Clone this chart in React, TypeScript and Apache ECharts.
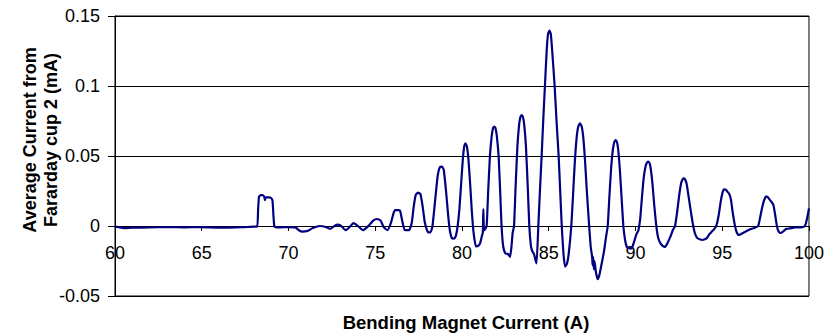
import React, { useEffect, useRef } from "react";
import * as echarts from "echarts";

// Bending magnet current (A)
const xValues: number[] = [
  60, 60.5, 61, 62, 63, 64, 65, 66, 67, 67.5, 68, 68.2, 68.25, 68.3, 68.4, 68.5, 68.6, 68.64, 68.68, 68.85,
  69.0, 69.08, 69.13, 69.18, 69.25, 69.5, 70.0, 70.4, 70.6, 70.8, 71.1, 71.4, 71.8, 72.1, 72.4, 72.8, 73.0, 73.3,
  73.5, 73.75, 74.0, 74.3, 74.6, 74.9, 75.1, 75.3, 75.5, 75.7, 75.9, 76.05, 76.15, 76.3, 76.43, 76.55, 76.7,
  76.95, 77.1, 77.22, 77.33, 77.45, 77.6, 77.72, 77.85, 77.98, 78.06, 78.19, 78.3, 78.45, 78.6, 78.72, 78.85,
  78.95, 79.08, 79.2, 79.3, 79.42, 79.55, 79.65, 79.75, 79.85, 79.95, 80.05, 80.13, 80.2, 80.28, 80.37, 80.47,
  80.57, 80.67, 80.8, 80.95, 81.05, 81.15, 81.2, 81.23, 81.26, 81.3, 81.42, 81.51, 81.61, 81.71, 81.79, 81.86,
  81.93, 82.01, 82.11, 82.2, 82.28, 82.38, 82.5, 82.65, 82.77, 82.85, 82.92, 83.0, 83.09, 83.19, 83.29, 83.37,
  83.44, 83.51, 83.59, 83.69, 83.79, 83.88, 83.97, 84.05, 84.15, 84.25, 84.3, 84.4, 84.5, 84.59, 84.7, 84.78,
  84.88, 84.96, 85.04, 85.12, 85.2, 85.34, 85.45, 85.57, 85.66, 85.75, 85.85, 85.94, 86.05, 86.15, 86.3, 86.4,
  86.5, 86.6, 86.7, 86.8, 86.9, 87.0, 87.1, 87.2, 87.33, 87.42, 87.5, 87.53, 87.56, 87.6, 87.64, 87.72, 87.82,
  87.92, 88.05, 88.2, 88.3, 88.4, 88.5, 88.6, 88.7, 88.78, 88.85, 88.93, 89.0, 89.1, 89.2, 89.3, 89.4, 89.5,
  89.65, 89.78, 89.9, 90.05, 90.17, 90.27, 90.37, 90.47, 90.57, 90.65, 90.73, 90.81, 90.89, 90.98, 91.08, 91.2,
  91.3, 91.42, 91.55, 91.7, 91.85, 92.0, 92.15, 92.28, 92.4, 92.52, 92.64, 92.75, 92.85, 92.95, 93.05, 93.17,
  93.3, 93.42, 93.55, 93.7, 93.85, 94.0, 94.1, 94.25, 94.4, 94.55, 94.68, 94.8, 94.92, 95.02, 95.1, 95.2, 95.3,
  95.4, 95.5, 95.6, 95.72, 95.82, 95.93, 96.05, 96.2, 96.35, 96.5, 96.69, 96.85, 97.07, 97.15, 97.28, 97.4,
  97.52, 97.6, 97.72, 97.85, 97.95, 98.05, 98.15, 98.25, 98.35, 98.5, 98.7, 98.9, 99.2, 99.5, 99.7, 99.8, 99.9,
  100,
];

// Average current from Faraday cup 2 (mA)
const currentValues: number[] = [
  -0.0005, -0.0015, -0.0012, -0.001, -0.0008, -0.001, -0.0008, -0.0012, -0.001, -0.0008, -0.0005, -0.0005, 0.012,
  0.021, 0.022, 0.022, 0.021, 0.0185, 0.0205, 0.0205, 0.02, 0.018, 0.008, 0.0, -0.0008, -0.001, -0.0008, -0.001,
  -0.003, -0.004, -0.0035, -0.0015, 0.0, -0.0005, -0.002, 0.001, 0.0005, -0.003, -0.001, 0.002, 0.0, -0.003, 0.0,
  0.004, 0.005, 0.004, -0.001, -0.003, 0.002, 0.009, 0.0114, 0.0114, 0.011, 0.004, -0.003, -0.003, 0.002, 0.014,
  0.022, 0.0238, 0.023, 0.015, 0.003, -0.003, -0.0045, -0.0045, 0.0, 0.018, 0.036, 0.042, 0.0424, 0.04, 0.025,
  0.008, -0.003, -0.0088, -0.009, -0.007, 0.0, 0.012, 0.03, 0.048, 0.057, 0.059, 0.057, 0.048, 0.03, 0.01, -0.005,
  -0.0145, -0.014, -0.012, -0.007, -0.005, 0.012, -0.002, -0.003, 0.0, 0.025, 0.05, 0.064, 0.07, 0.071, 0.07,
  0.064, 0.05, 0.025, 0.0, -0.015, -0.0195, -0.02, -0.022, -0.015, -0.005, 0.0, 0.028, 0.056, 0.072, 0.078,
  0.0793, 0.078, 0.072, 0.056, 0.028, 0.0, -0.014, -0.018, -0.02, -0.025, -0.0267, 0.0, 0.027, 0.05, 0.08, 0.1,
  0.125, 0.137, 0.1395, 0.137, 0.125, 0.1, 0.075, 0.05, 0.025, 0.0, -0.02, -0.029, -0.027, -0.02, 0.0, 0.022,
  0.045, 0.062, 0.071, 0.0733, 0.071, 0.062, 0.045, 0.024, 0.0, -0.015, -0.022, -0.028, -0.022, -0.031, -0.025,
  -0.033, -0.038, -0.035, -0.027, -0.017, -0.008, 0.0, 0.022, 0.042, 0.055, 0.06, 0.0614, 0.06, 0.055, 0.04, 0.02,
  0.0, -0.01, -0.015, -0.016, -0.016, -0.012, -0.006, -0.003, 0.005, 0.02, 0.034, 0.042, 0.045, 0.046, 0.045,
  0.04, 0.03, 0.015, 0.0, -0.008, -0.012, -0.014, -0.015, -0.012, -0.008, -0.003, 0.0, 0.01, 0.022, 0.031, 0.034,
  0.0335, 0.03, 0.022, 0.012, 0.002, -0.005, -0.0085, -0.0095, -0.01, -0.0095, -0.0088, -0.006, -0.004, -0.002,
  0.001, 0.008, 0.018, 0.024, 0.0262, 0.026, 0.0245, 0.023, 0.019, 0.01, 0.001, -0.004, -0.0064, -0.006, -0.005,
  -0.004, -0.003, -0.002, -0.0015, 0.0, 0.004, 0.012, 0.018, 0.021, 0.021, 0.019, 0.017, 0.015, 0.008, 0.0, -0.004,
  -0.005, -0.004, -0.002, -0.0017, -0.001, -0.001, -0.0005, 0.001, 0.006, 0.0126,
];

const xTitle = "Bending Magnet Current (A)";
const yTitleLines = ["Average Current from", "Fararday cup 2 (mA)"];

const FONT = "'Liberation Sans', Arial, Helvetica, sans-serif";

export default function App() {
  const ref = useRef<HTMLDivElement>(null);
  useEffect(() => {
    if (!ref.current) return;
    const chart = echarts.init(ref.current, null, { renderer: "svg" });
    const data = xValues.map((x, i) => [x, currentValues[i]]);
    chart.setOption({
      animation: false,
      backgroundColor: "#ffffff",
      grid: {
        left: 115,
        right: 18,
        top: 16,
        bottom: 39,
        show: true,
        borderColor: "#000000",
        borderWidth: 1,
        backgroundColor: "transparent",
      },
      xAxis: {
        type: "value",
        min: 60,
        max: 100,
        interval: 5,
        position: "bottom",
        offset: -70,
        axisLine: { onZero: false, lineStyle: { color: "#000000", width: 1 } },
        axisTick: { show: true, inside: false, length: 5, lineStyle: { color: "#000000" } },
        axisLabel: { color: "#000000", fontSize: 18, fontFamily: FONT, margin: 18 },
        splitLine: { show: false },
      },
      yAxis: {
        type: "value",
        min: -0.05,
        max: 0.15,
        interval: 0.05,
        axisLine: { show: true, lineStyle: { color: "#000000", width: 1 } },
        axisTick: { show: true, inside: false, length: 7, lineStyle: { color: "#000000" } },
        axisLabel: {
          color: "#000000",
          fontSize: 18,
          fontFamily: FONT,
          margin: 15,
          formatter: (v: number) => String(Math.round(v * 100) / 100),
        },
        splitLine: { show: true, lineStyle: { color: "#000000", width: 1 } },
      },
      graphic: [
        {
          type: "text",
          x: 466,
          y: 322,
          style: {
            text: xTitle,
            fontSize: 18.5,
            fontWeight: "bold",
            fontFamily: FONT,
            fill: "#000000",
            textAlign: "center",
            textVerticalAlign: "middle",
          },
        },
        {
          type: "text",
          x: 40,
          y: 140,
          rotation: Math.PI / 2,
          style: {
            text: yTitleLines.join("\n"),
            fontSize: 18,
            fontWeight: "bold",
            fontFamily: FONT,
            lineHeight: 21,
            fill: "#000000",
            textAlign: "center",
            textVerticalAlign: "middle",
          },
        },
      ],
      series: [
        {
          type: "line",
          data,
          showSymbol: false,
          smooth: 0.15,
          lineStyle: { color: "#000080", width: 2.2 },
        },
      ],
    });
    return () => chart.dispose();
  }, []);
  return (
    <div
      ref={ref}
      style={{ position: "fixed", left: 0, top: 0, width: 827, height: 335, background: "#fff" }}
    />
  );
}
